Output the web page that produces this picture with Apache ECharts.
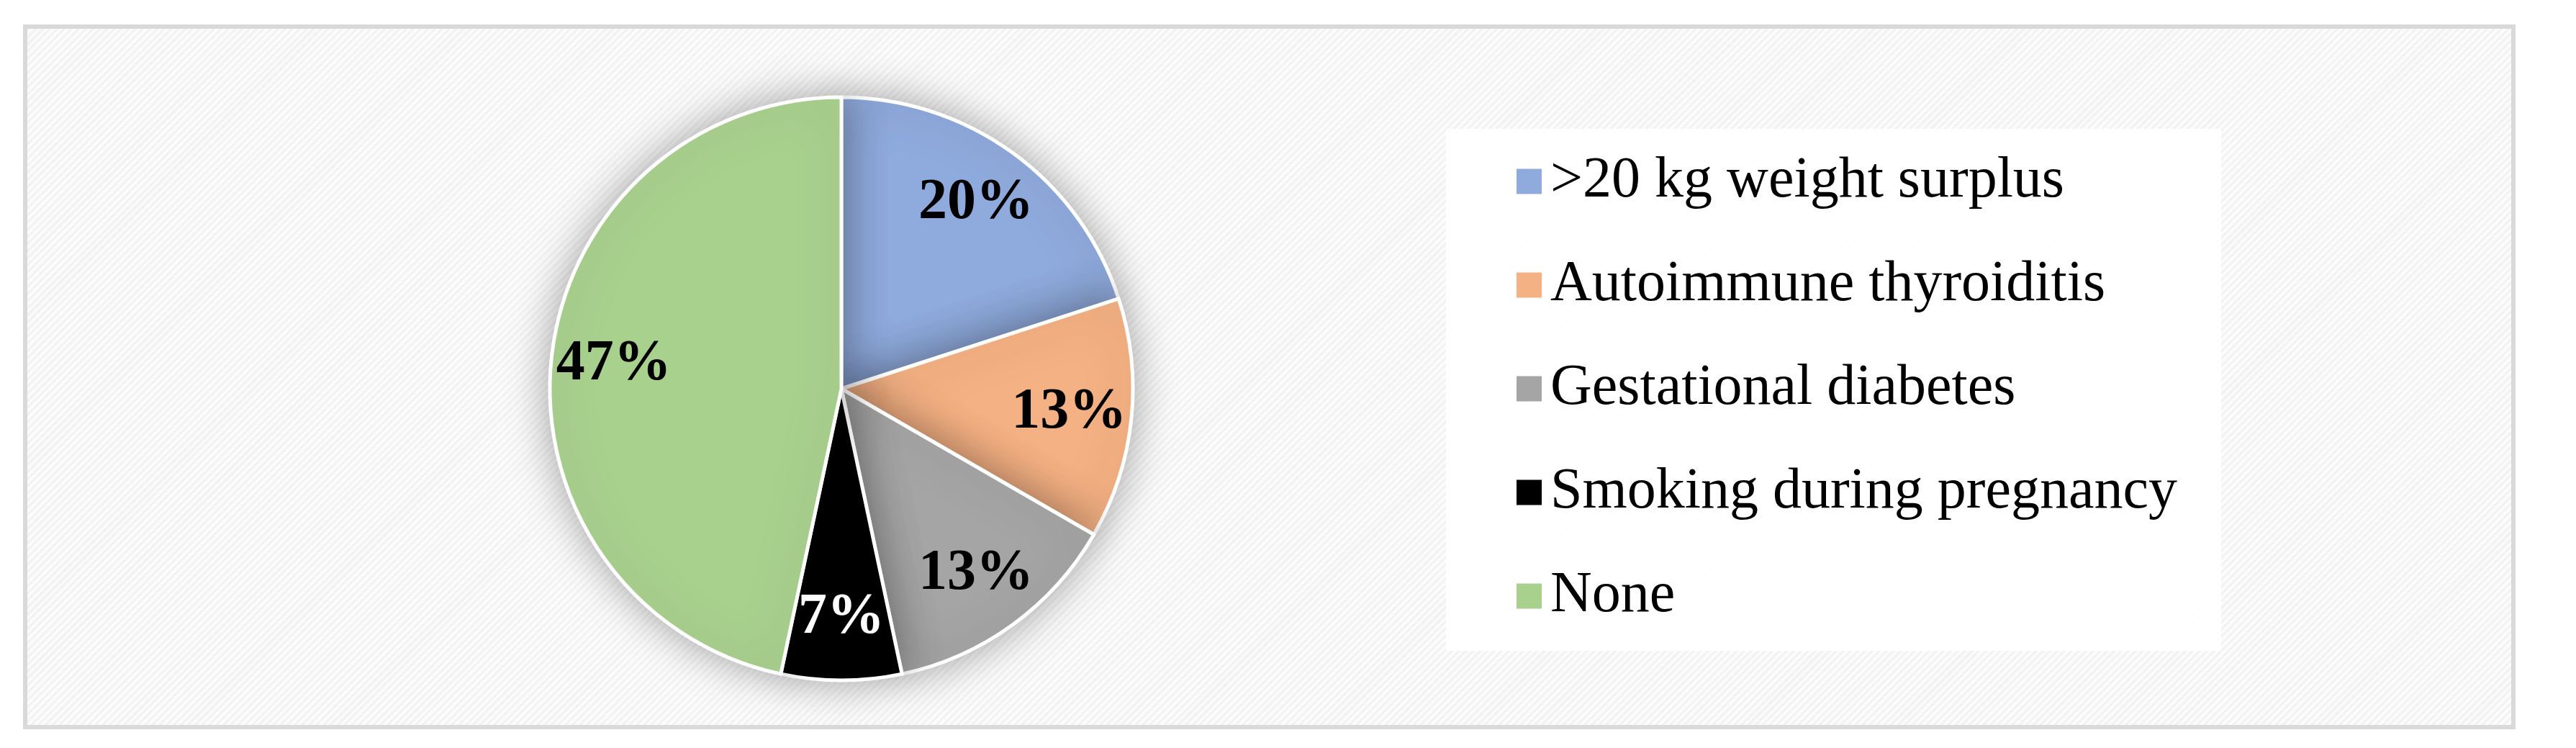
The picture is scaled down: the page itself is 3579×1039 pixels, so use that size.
<!DOCTYPE html>
<html>
<head>
<meta charset="utf-8">
<script src="https://cdn.jsdelivr.net/npm/echarts@6/dist/echarts.min.js"></script>
<style>
  html, body { margin: 0; padding: 0; background: #fff; }
  #frame {
    position: absolute; left: 32px; top: 34px; width: 3451px; height: 967px;
    border: 6px solid #d9d9d9;
    background: repeating-linear-gradient(135deg, #f2f2f2 0px, #f2f2f2 3px, #fbfbfb 3px, #fbfbfb 7px);
  }
  #chart { position: absolute; left: 0; top: 0; width: 3579px; height: 1039px; }
</style>
</head>
<body>
<div id="frame"></div>
<div id="chart"></div>
<script>
// Risk factors (counts of cases, shown as percent)
const categories = ['>20 kg weight surplus', 'Autoimmune thyroiditis', 'Gestational diabetes', 'Smoking during pregnancy', 'None'];
const counts = [3, 2, 2, 1, 7];
const colors = ['#8faadc', '#f4b183', '#a5a5a5', '#000000', '#a9d18e'];
const labelColors = ['#000', '#000', '#000', '#fff', '#000'];

const pieData = categories.map((name, i) => ({
  name: name,
  value: counts[i],
  itemStyle: { color: colors[i] }
}));

const labelData = categories.map((name, i) => ({
  name: name,
  value: counts[i],
  label: { color: labelColors[i] }
}));

const chart = echarts.init(document.getElementById('chart'));

chart.setOption({
  animation: false,
  legend: {
    orient: 'vertical',
    left: 2009,
    top: 179,
    padding: [28, 61, 31, 96],
    backgroundColor: 'rgba(255,255,255,0.9)',
    itemWidth: 37,
    itemHeight: 37,
    itemGap: 54,
    icon: 'rect',
    data: categories,
    textStyle: {
      fontFamily: 'Liberation Serif',
      fontSize: 80,
      lineHeight: 90,
      color: '#000',
      padding: [0, 0, 0, 6]
    }
  },
  series: [
    {
      name: 'Risk factors',
      type: 'pie',
      center: [1169, 540],
      radius: [0, 405],
      startAngle: 90,
      clockwise: true,
      data: pieData,
      label: { show: false },
      labelLine: { show: false },
      itemStyle: {
        borderColor: '#fff',
        borderWidth: 5,
        shadowBlur: 60,
        shadowColor: 'rgba(0,0,0,0.35)'
      }
    },
    {
      // label-only ring to place percentages at ~0.78 r
      name: 'labels',
      type: 'pie',
      center: [1169, 540],
      radius: [225, 405],
      startAngle: 90,
      silent: true,
      data: labelData,
      itemStyle: { color: 'transparent' },
      labelLine: { show: false },
      label: {
        show: true,
        position: 'inside',
        fontFamily: 'Liberation Serif',
        fontWeight: 'bold',
        fontSize: 80,
        formatter: p => Math.round(p.percent) + '%'
      }
    }
  ]
});
</script>
</body>
</html>
